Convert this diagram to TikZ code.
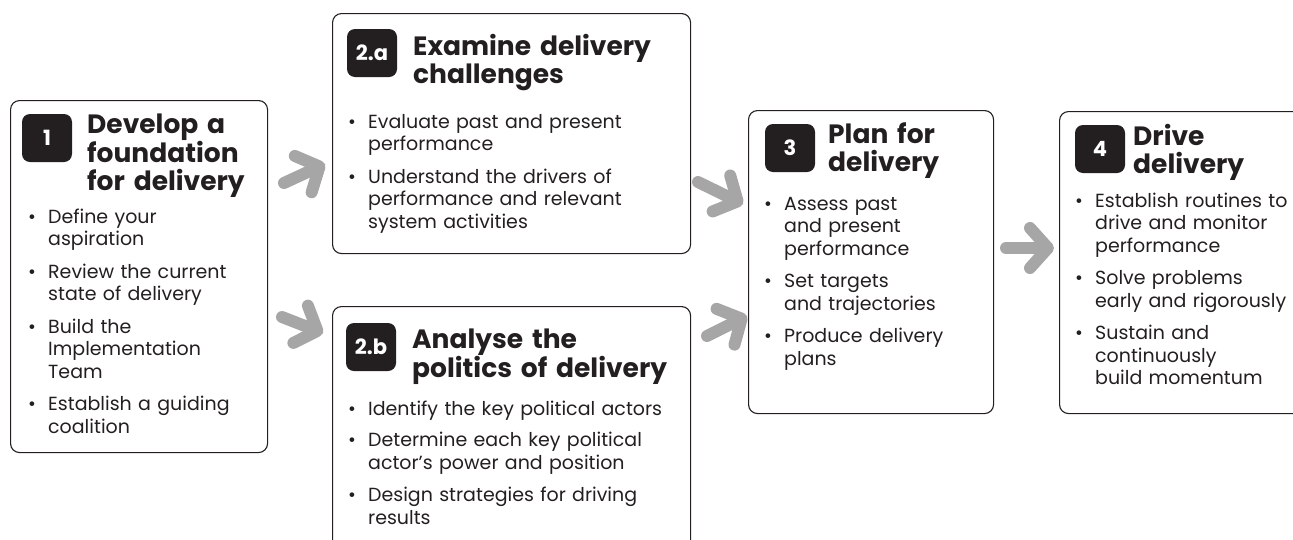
\documentclass[tikz,border=0pt]{standalone}
\usepackage{fontspec}
\setmainfont{Poppins}
\usetikzlibrary{arrows.meta}
\definecolor{inkblack}{RGB}{35,31,32}
\definecolor{arrowgray}{RGB}{166,166,166}
\tikzstyle{every node}=[inner sep=0pt, text=inkblack]
\tikzstyle{stagebox} = [rectangle, rounded corners=9pt, draw=inkblack, line width=1.1pt, anchor=north west]
\tikzstyle{badge} = [rectangle, rounded corners=8pt, fill=inkblack, text=white, minimum width=50pt, minimum height=48pt, font=\fontsize{21}{21}\selectfont\bfseries]
\tikzstyle{heading} = [anchor=base west, align=left, text width=320pt, font=\fontsize{26.5}{28}\selectfont\bfseries]
\tikzstyle{bullets} = [anchor=base west, align=left, text width=330pt, font=\fontsize{19}{22.5}\selectfont]
\tikzstyle{bigarrow} = [draw=arrowgray, line width=12pt, line cap=round, line join=round, -{Straight Barb[round, length=18pt, width=40pt]}]
\newcommand{\bitem}[1]{\noindent\hbox to 20pt{\textbullet\hfil}\begin{tabular}[t]{@{}l@{}}#1\end{tabular}\par\vspace{9pt}}

\begin{document}
\begin{tikzpicture}
        \useasboundingbox (0,0) rectangle (1293pt,-539pt);

        % step 1
        \node (box1) [stagebox, minimum width=257pt, minimum height=352pt, xshift=10pt, yshift=-100pt] {};
          \node (badge1) [badge, xshift=47pt, yshift=-138pt] {1};
          \node (head1) [heading, xshift=87pt, yshift=-133pt] {Develop a\\foundation\\for delivery};
          \node (list1) [bullets, xshift=28pt, yshift=-223pt] {\bitem{Define your\\aspiration}\bitem{Review the current\\state of delivery}\bitem{Build the\\Implementation\\Team}\bitem{Establish a guiding\\coalition}};

        % step 2.a
        \node (box2a) [stagebox, minimum width=358pt, minimum height=240pt, xshift=332pt, yshift=-13pt] {};
          \node (badge2a) [badge, xshift=372pt, yshift=-53pt] {2.a};
          \node (head2a) [heading, xshift=413pt, yshift=-55pt] {Examine delivery\\challenges};
          \node (list2a) [bullets, xshift=348pt, yshift=-128pt] {\bitem{Evaluate past and present\\performance}\bitem{Understand the drivers of\\performance and relevant\\system activities}};

        % step 2.b
        \node (box2b) [stagebox, minimum width=358pt, minimum height=280pt, xshift=332pt, yshift=-306pt] {};
          \node (badge2b) [badge, xshift=371pt, yshift=-347pt] {2.b};
          \node (head2b) [heading, xshift=412pt, yshift=-348pt] {Analyse the\\politics of delivery};
          \node (list2b) [bullets, xshift=348pt, yshift=-415pt] {\bitem{Identify the key political actors}\bitem{Determine each key political\\actor’s power and position}\bitem{Design strategies for driving\\results}};

        % step 3
        \node (box3) [stagebox, minimum width=245pt, minimum height=303pt, xshift=748pt, yshift=-110pt] {};
          \node (badge3) [badge, xshift=790pt, yshift=-148pt] {3};
          \node (head3) [heading, xshift=828pt, yshift=-143pt] {Plan for\\delivery};
          \node (list3) [bullets, xshift=764pt, yshift=-210pt] {\bitem{Assess past\\and present\\performance}\bitem{Set targets\\and trajectories}\bitem{Produce delivery\\plans}};

        % step 4
        \node (box4) [stagebox, minimum width=262pt, minimum height=302pt, xshift=1059pt, yshift=-111pt] {};
          \node (badge4) [badge, xshift=1100pt, yshift=-149pt] {4};
          \node (head4) [heading, xshift=1133pt, yshift=-145pt] {Drive\\delivery};
          \node (list4) [bullets, xshift=1075pt, yshift=-207pt] {\bitem{Establish routines to\\drive and monitor\\performance}\bitem{Solve problems\\early and rigorously}\bitem{Sustain and\\continuously\\build momentum}};

        % arrows between the steps
        \coordinate (a1s) at (284pt,-183pt);  \coordinate (a1e) at (325pt,-164pt);
        \coordinate (a2s) at (282pt,-317pt);  \coordinate (a2e) at (323pt,-333pt);
        \coordinate (a3s) at (698pt,-182pt);  \coordinate (a3e) at (743pt,-204pt);
        \coordinate (a4s) at (707pt,-336pt);  \coordinate (a4e) at (747pt,-316pt);
        \coordinate (a5s) at (1006pt,-248pt); \coordinate (a5e) at (1054pt,-248pt);

        \draw [bigarrow] (a1s) -- (a1e);
        \draw [bigarrow] (a2s) -- (a2e);
        \draw [bigarrow] (a3s) -- (a3e);
        \draw [bigarrow] (a4s) -- (a4e);
        \draw [bigarrow] (a5s) -- (a5e);
      \end{tikzpicture}
\end{document}
